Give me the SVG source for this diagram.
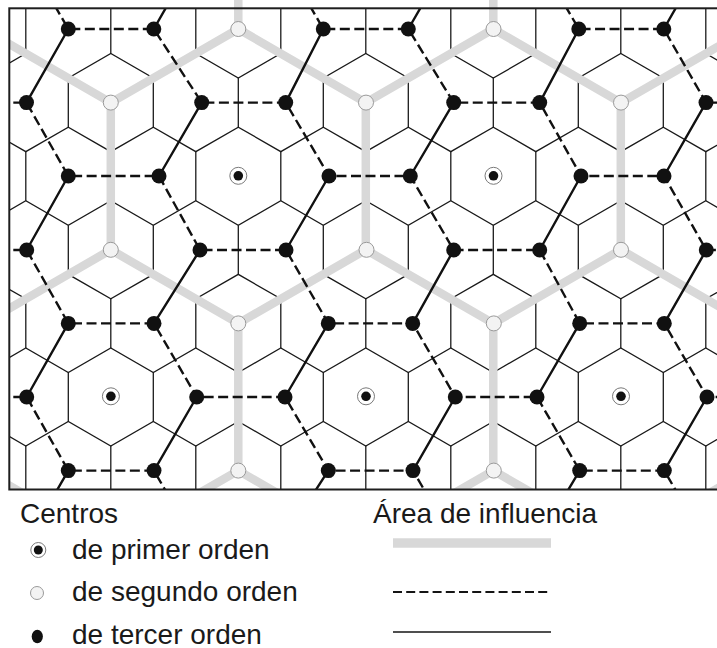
<svg xmlns="http://www.w3.org/2000/svg" width="717" height="648" viewBox="0 0 717 648">
<style>
.hex{fill:none;stroke:#1a1a1a;stroke-width:1.3}
.inf1{fill:none;stroke:#d8d8d8;stroke-width:8.5;stroke-linejoin:round}
.inf2{fill:none;stroke:#111;stroke-width:2.4;stroke-dasharray:10 4.5}
.inf3{fill:none;stroke:#111;stroke-width:2.4}
.c1o{fill:#fff;stroke:#7a7a7a;stroke-width:1}
.c1i{fill:#111}
.c2{fill:#f3f3f3;stroke:#9a9a9a;stroke-width:1}
.c3{fill:#111}
.frame{fill:none;stroke:#1e1e1e;stroke-width:2}
text{font-family:"Liberation Sans",Arial,sans-serif;font-size:28px;fill:#1a1a1a}
</style>
<defs>
<clipPath id="clipIn"><rect x="9.3" y="8.3" width="720" height="481.2"/></clipPath>
<clipPath id="clipTop"><rect x="9.3" y="0" width="720" height="489.5"/></clipPath>
</defs>
<rect width="717" height="648" fill="#fff"/>

<g id="grid" clip-path="url(#clipIn)">
<path class="hex" d="M-16.7 78.07 l42.5 -24.53 42.5 24.53 42.5 -24.53 42.5 24.53 42.5 -24.53 42.5 24.53 42.5 -24.53 42.5 24.53 42.5 -24.53 42.5 24.53 42.5 -24.53 42.5 24.53 42.5 -24.53 42.5 24.53 42.5 -24.53 42.5 24.53 42.5 -24.53 42.5 24.53 42.5 -24.53 42.5 24.53
M-16.7 127.13 l42.5 24.53 42.5 -24.53 42.5 24.53 42.5 -24.53 42.5 24.53 42.5 -24.53 42.5 24.53 42.5 -24.53 42.5 24.53 42.5 -24.53 42.5 24.53 42.5 -24.53 42.5 24.53 42.5 -24.53 42.5 24.53 42.5 -24.53 42.5 24.53 42.5 -24.53 42.5 24.53 42.5 -24.53
M-16.7 225.27 l42.5 -24.53 42.5 24.53 42.5 -24.53 42.5 24.53 42.5 -24.53 42.5 24.53 42.5 -24.53 42.5 24.53 42.5 -24.53 42.5 24.53 42.5 -24.53 42.5 24.53 42.5 -24.53 42.5 24.53 42.5 -24.53 42.5 24.53 42.5 -24.53 42.5 24.53 42.5 -24.53 42.5 24.53
M-16.7 274.33 l42.5 24.53 42.5 -24.53 42.5 24.53 42.5 -24.53 42.5 24.53 42.5 -24.53 42.5 24.53 42.5 -24.53 42.5 24.53 42.5 -24.53 42.5 24.53 42.5 -24.53 42.5 24.53 42.5 -24.53 42.5 24.53 42.5 -24.53 42.5 24.53 42.5 -24.53 42.5 24.53 42.5 -24.53
M-16.7 372.47 l42.5 -24.53 42.5 24.53 42.5 -24.53 42.5 24.53 42.5 -24.53 42.5 24.53 42.5 -24.53 42.5 24.53 42.5 -24.53 42.5 24.53 42.5 -24.53 42.5 24.53 42.5 -24.53 42.5 24.53 42.5 -24.53 42.5 24.53 42.5 -24.53 42.5 24.53 42.5 -24.53 42.5 24.53
M-16.7 421.53 l42.5 24.53 42.5 -24.53 42.5 24.53 42.5 -24.53 42.5 24.53 42.5 -24.53 42.5 24.53 42.5 -24.53 42.5 24.53 42.5 -24.53 42.5 24.53 42.5 -24.53 42.5 24.53 42.5 -24.53 42.5 24.53 42.5 -24.53 42.5 24.53 42.5 -24.53 42.5 24.53 42.5 -24.53"/>
<path class="hex" d="M25.8 4.47 v49.06 m85 -49.06 v49.06 m85 -49.06 v49.06 m85 -49.06 v49.06 m85 -49.06 v49.06 m85 -49.06 v49.06 m85 -49.06 v49.06 m85 -49.06 v49.06 m85 -49.06 v49.06
M68.3 78.07 v49.06 m85 -49.06 v49.06 m85 -49.06 v49.06 m85 -49.06 v49.06 m85 -49.06 v49.06 m85 -49.06 v49.06 m85 -49.06 v49.06 m85 -49.06 v49.06
M25.8 151.67 v49.06 m85 -49.06 v49.06 m85 -49.06 v49.06 m85 -49.06 v49.06 m85 -49.06 v49.06 m85 -49.06 v49.06 m85 -49.06 v49.06 m85 -49.06 v49.06 m85 -49.06 v49.06
M68.3 225.27 v49.06 m85 -49.06 v49.06 m85 -49.06 v49.06 m85 -49.06 v49.06 m85 -49.06 v49.06 m85 -49.06 v49.06 m85 -49.06 v49.06 m85 -49.06 v49.06
M25.8 298.87 v49.06 m85 -49.06 v49.06 m85 -49.06 v49.06 m85 -49.06 v49.06 m85 -49.06 v49.06 m85 -49.06 v49.06 m85 -49.06 v49.06 m85 -49.06 v49.06 m85 -49.06 v49.06
M68.3 372.47 v49.06 m85 -49.06 v49.06 m85 -49.06 v49.06 m85 -49.06 v49.06 m85 -49.06 v49.06 m85 -49.06 v49.06 m85 -49.06 v49.06 m85 -49.06 v49.06
M25.8 446.07 v49.06 m85 -49.06 v49.06 m85 -49.06 v49.06 m85 -49.06 v49.06 m85 -49.06 v49.06 m85 -49.06 v49.06 m85 -49.06 v49.06 m85 -49.06 v49.06 m85 -49.06 v49.06"/>
</g>

<g id="connectors">
<g id="influence-1" clip-path="url(#clipTop)">
<path class="inf1" d="M-16.7 29 L110.8 102.6 238.3 29 365.8 102.6 493.3 29 620.8 102.6 748.3 29"/>
<path class="inf1" d="M-16.7 323.4 L110.8 249.8 238.3 323.4 365.8 249.8 493.3 323.4 620.8 249.8 748.3 323.4"/>
<path class="inf1" d="M-16.7 470.6 L110.8 544.2 238.3 470.6 365.8 544.2 493.3 470.6 620.8 544.2 748.3 470.6"/>
<path class="inf1" d="M110.8 102.6 V249.8 M365.8 102.6 V249.8 M620.8 102.6 V249.8 M238.3 323.4 V470.6 M493.3 323.4 V470.6 M238.3 29 V-20 M493.3 29 V-20"/>
</g>
<g id="influence-2" clip-path="url(#clipIn)">
<path class="inf2" d="M25.8 -44.6 L68.3 29 153.8 29 201.7 102.6 285.7 102.6 329 176 410.3 176 453.7 250 539.7 250 579.7 323.4 664.3 323.4 707 397 790.8 397"/>
<path class="inf2" d="M280.8 -44.6 L323.3 29 408.3 29 453.7 102.6 539.7 102.6 581 176 664 176 706.3 250 790.8 250"/>
<path class="inf2" d="M535.8 -44.6 L578.8 29 663.8 29 706 102.6 790.8 102.6"/>
<path class="inf2" d="M-59.2 102.6 L26.5 102.6 68.3 176 159 176 200 250 286 250 328.3 323.4 412.7 323.4 455.3 397 537 397 579.7 470.6 664.3 470.6 706.8 544.2"/>
<path class="inf2" d="M-59.2 250 L26.7 250 68.3 323.4 154 323.4 196.7 397 285 397 328.3 470.6 413 470.6 455.8 544.2"/>
<path class="inf2" d="M-59.2 397 L26.7 397 68.3 470.6 154 470.6 196.3 544.2"/>
</g>
<g id="influence-3" clip-path="url(#clipIn)">
<path class="inf3" d="M195.8 -44.6 L153.8 29 M450.8 -44.6 L408.3 29 M705.8 -44.6 L663.8 29
M68.3 29 L26.5 102.6 M323.3 29 L285.7 102.6 M578.8 29 L539.7 102.6
M201.7 102.6 L159 176 M453.7 102.6 L410.3 176 M706 102.6 L664 176
M68.3 176 L26.7 250 M329 176 L286 250 M581 176 L539.7 250
M200 250 L154 323.4 M453.7 250 L412.7 323.4 M706.3 250 L664.3 323.4
M68.3 323.4 L26.7 397 M328.3 323.4 L285 397 M579.7 323.4 L537 397
M196.7 397 L154 470.6 M455.3 397 L413 470.6 M707 397 L664.3 470.6
M68.3 470.6 L25.8 544.2 M328.3 470.6 L280.8 544.2 M579.7 470.6 L535.8 544.2"/>
</g>
</g>

<rect class="frame" x="9.3" y="8.3" width="720" height="481.2"/>

<g id="first-order">
<g id="f1"><circle class="c1o" cx="238.3" cy="175.8" r="8.5"/><circle class="c1i" cx="238.3" cy="175.8" r="4.8"/></g>
<g id="f2"><circle class="c1o" cx="493.5" cy="175.8" r="8.5"/><circle class="c1i" cx="493.5" cy="175.8" r="4.8"/></g>
<g id="f3"><circle class="c1o" cx="110.9" cy="396.3" r="8.5"/><circle class="c1i" cx="110.9" cy="396.3" r="4.8"/></g>
<g id="f4"><circle class="c1o" cx="366" cy="396.3" r="8.5"/><circle class="c1i" cx="366" cy="396.3" r="4.8"/></g>
<g id="f5"><circle class="c1o" cx="621" cy="396.3" r="8.5"/><circle class="c1i" cx="621" cy="396.3" r="4.8"/></g>
</g>

<g id="second-order">
<g id="s1"><circle class="c2" cx="238.3" cy="29" r="7.5"/></g>
<g id="s2"><circle class="c2" cx="493.5" cy="29" r="7.5"/></g>
<g id="s3"><circle class="c2" cx="110.8" cy="102.6" r="7.5"/></g>
<g id="s4"><circle class="c2" cx="366" cy="102.6" r="7.5"/></g>
<g id="s5"><circle class="c2" cx="621" cy="102.6" r="7.5"/></g>
<g id="s6"><circle class="c2" cx="110.8" cy="249.8" r="7.5"/></g>
<g id="s7"><circle class="c2" cx="366.5" cy="249.8" r="7.5"/></g>
<g id="s8"><circle class="c2" cx="621" cy="249.8" r="7.5"/></g>
<g id="s9"><circle class="c2" cx="238.3" cy="323.4" r="7.5"/></g>
<g id="s10"><circle class="c2" cx="493.8" cy="323.4" r="7.5"/></g>
<g id="s11"><circle class="c2" cx="238.3" cy="470.6" r="7.5"/></g>
<g id="s12"><circle class="c2" cx="493.8" cy="470.6" r="7.5"/></g>
</g>

<g id="third-order">
<g id="t0"><circle class="c3" cx="68.3" cy="29" r="7.5"/><circle class="c3" cx="153.8" cy="29" r="7.5"/><circle class="c3" cx="323.3" cy="29" r="7.5"/><circle class="c3" cx="408.3" cy="29" r="7.5"/><circle class="c3" cx="578.8" cy="29" r="7.5"/><circle class="c3" cx="663.8" cy="29" r="7.5"/></g>
<g id="t1"><circle class="c3" cx="26.5" cy="102.6" r="7.5"/><circle class="c3" cx="201.7" cy="102.6" r="7.5"/><circle class="c3" cx="285.7" cy="102.6" r="7.5"/><circle class="c3" cx="453.7" cy="102.6" r="7.5"/><circle class="c3" cx="539.7" cy="102.6" r="7.5"/><circle class="c3" cx="706" cy="102.6" r="7.5"/></g>
<g id="t2"><circle class="c3" cx="68.3" cy="176" r="7.5"/><circle class="c3" cx="159" cy="176" r="7.5"/><circle class="c3" cx="329" cy="176" r="7.5"/><circle class="c3" cx="410.3" cy="176" r="7.5"/><circle class="c3" cx="581" cy="176" r="7.5"/><circle class="c3" cx="664" cy="176" r="7.5"/></g>
<g id="t3"><circle class="c3" cx="26.7" cy="250" r="7.5"/><circle class="c3" cx="200" cy="250" r="7.5"/><circle class="c3" cx="286" cy="250" r="7.5"/><circle class="c3" cx="453.7" cy="250" r="7.5"/><circle class="c3" cx="539.7" cy="250" r="7.5"/><circle class="c3" cx="706.3" cy="250" r="7.5"/></g>
<g id="t4"><circle class="c3" cx="68.3" cy="323.4" r="7.5"/><circle class="c3" cx="154" cy="323.4" r="7.5"/><circle class="c3" cx="328.3" cy="323.4" r="7.5"/><circle class="c3" cx="412.7" cy="323.4" r="7.5"/><circle class="c3" cx="579.7" cy="323.4" r="7.5"/><circle class="c3" cx="664.3" cy="323.4" r="7.5"/></g>
<g id="t5"><circle class="c3" cx="26.7" cy="397" r="7.5"/><circle class="c3" cx="196.7" cy="397" r="7.5"/><circle class="c3" cx="285" cy="397" r="7.5"/><circle class="c3" cx="455.3" cy="397" r="7.5"/><circle class="c3" cx="537" cy="397" r="7.5"/><circle class="c3" cx="707" cy="397" r="7.5"/></g>
<g id="t6"><circle class="c3" cx="68.3" cy="470.6" r="7.5"/><circle class="c3" cx="154" cy="470.6" r="7.5"/><circle class="c3" cx="328.3" cy="470.6" r="7.5"/><circle class="c3" cx="413" cy="470.6" r="7.5"/><circle class="c3" cx="579.7" cy="470.6" r="7.5"/><circle class="c3" cx="664.3" cy="470.6" r="7.5"/></g>
</g>

<g id="legend">
<g id="legend-centros"><text x="20" y="523">Centros</text></g>
<g id="legend-area"><text x="373" y="523">Área de influencia</text></g>
<g id="legend-1">
<circle class="c1o" cx="38.3" cy="550" r="7.5"/><circle class="c1i" cx="38.3" cy="550" r="4.5"/>
<text x="72" y="558.5">de primer orden</text>
<line x1="393" y1="543" x2="551" y2="543" stroke="#d8d8d8" stroke-width="9.5"/>
</g>
<g id="legend-2">
<circle class="c2" cx="37" cy="593" r="6.5"/>
<text x="72" y="601">de segundo orden</text>
<line x1="393" y1="592" x2="551" y2="592" stroke="#141414" stroke-width="2.2" stroke-dasharray="9 4.2"/>
</g>
<g id="legend-3">
<ellipse class="c3" cx="37.3" cy="636.5" rx="5.6" ry="6.8"/>
<text x="72" y="643.5">de tercer orden</text>
<line x1="393" y1="632" x2="551" y2="632" stroke="#141414" stroke-width="1.5"/>
</g>
</g>
</svg>
